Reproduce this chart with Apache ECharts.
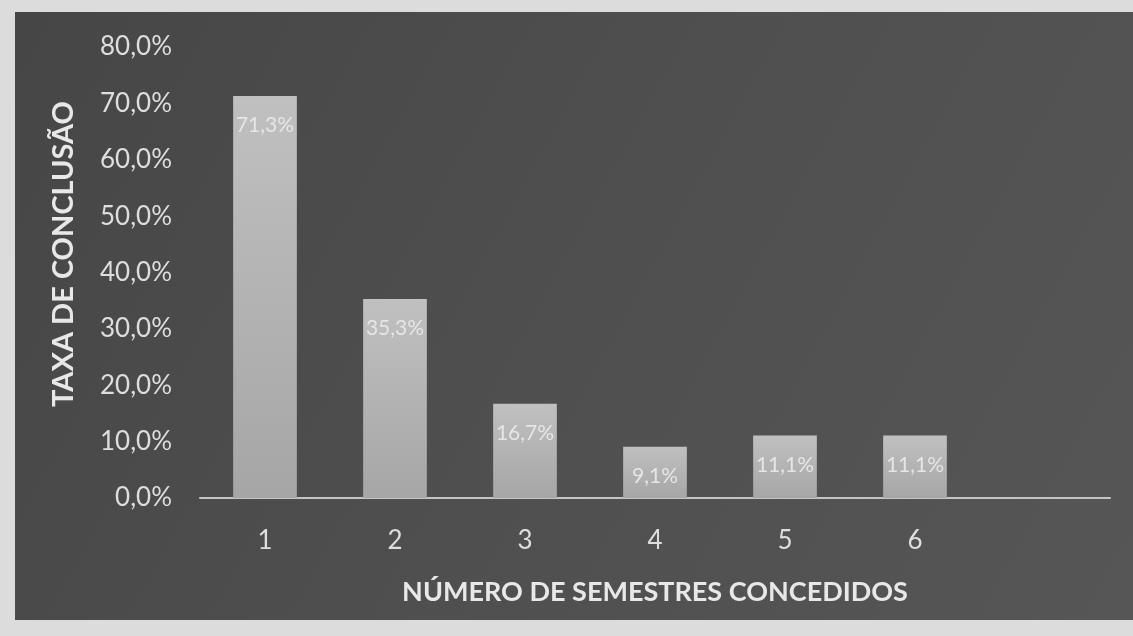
<!DOCTYPE html>
<html><head><meta charset="utf-8">
<script src="https://cdn.jsdelivr.net/npm/echarts@6/dist/echarts.min.js"></script>
<style>html,body{margin:0;padding:0;background:#dcdcdc;}#c{width:1133px;height:636px;}</style>
</head><body><div id="c"></div>
<script>
const categories = ['1','2','3','4','5','6',''];
const values = [71.3, 35.3, 16.7, 9.1, 11.1, 11.1, null];
const yTicks = [0,10,20,30,40,50,60,70,80];
const yTitle = 'TAXA DE CONCLUSÃO';
const xTitle = 'NÚMERO DE SEMESTRES CONCEDIDOS';

const fmt = v => v.toFixed(1).replace('.', ',') + '%';
const FONT = 'Lato, "Open Sans", sans-serif';
const chart = echarts.init(document.getElementById('c'), null, {renderer:'canvas'});
chart.setOption({
  backgroundColor: '#dcdcdc',
  animation: false,
  graphic: [
    {type:'rect', z:-10, shape:{x:15, y:12, width:1118, height:608},
     style:{fill:new echarts.graphic.LinearGradient(0,0,1,1,[{offset:0,color:'#464646'},{offset:0.5,color:'#4f4f4f'},{offset:1,color:'#565656'}])}},
    {type:'text', rotation:Math.PI/2, z:10, x:64, y:254,
     style:{text:yTitle, fill:'#e8e8e8', font:'bold 29px '+FONT, textAlign:'center', textVerticalAlign:'middle'}}
  ],
  grid: {left:200, right:23, top:47, bottom:138},
  xAxis: {
    type:'category', data:categories,
    axisLine:{lineStyle:{color:'#c4c4c4', width:2}},
    axisTick:{show:false},
    axisLabel:{color:'#dedede', fontFamily:FONT, fontSize:26, margin:30},
    name:xTitle, nameLocation:'middle', nameGap:81,
    nameTextStyle:{color:'#e8e8e8', fontFamily:FONT, fontSize:27, fontWeight:'bold'}
  },
  yAxis: {
    type:'value', min:yTicks[0], max:yTicks[yTicks.length-1], interval:yTicks[1]-yTicks[0],
    axisLine:{show:false}, axisTick:{show:false}, splitLine:{show:false},
    axisLabel:{color:'#dedede', fontFamily:FONT, fontSize:26, margin:28, formatter:fmt}
  },
  series: [{
    type:'bar', data:values, barWidth:'49%',
    itemStyle:{color:new echarts.graphic.LinearGradient(0,0,0,1,[{offset:0,color:'#c0c0c0'},{offset:1,color:'#a6a6a6'}])},
    label:{show:true, position:'insideTop', distance:19, color:'#e6e6e6', fontFamily:FONT, fontSize:21,
      formatter:p => p.value==null ? '' : fmt(p.value)}
  }]
});
</script></body></html>
